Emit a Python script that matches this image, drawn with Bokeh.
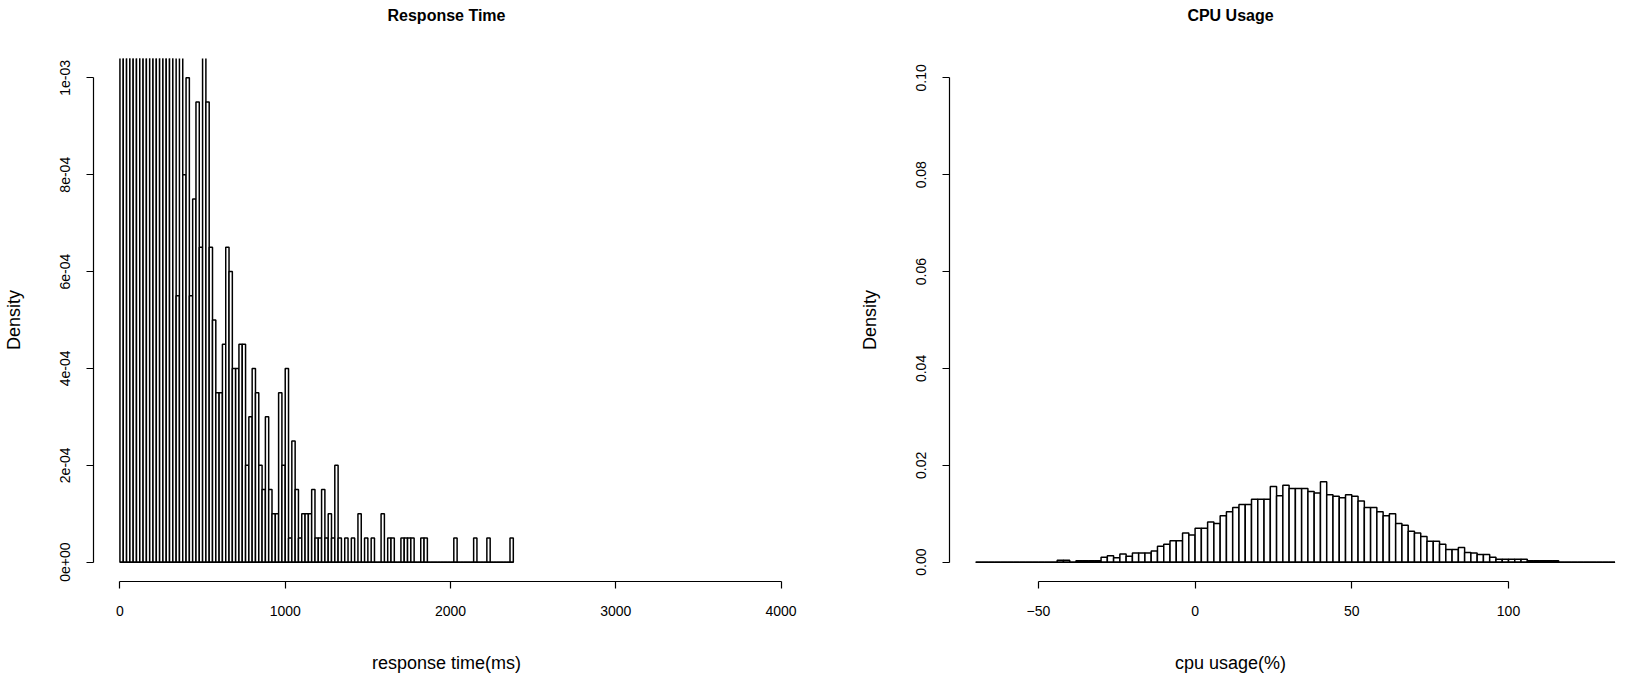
from bokeh.plotting import figure
from bokeh.layouts import row
from bokeh.models import FixedTicker, Range1d, LinearAxis
from bokeh.embed import file_html
from bokeh.resources import INLINE

# ---------------- data ----------------
# Response time histogram: 20 ms bins starting at 0, density in units of 1e-4
rt_bin_width = 20
rt_first_break = 0
rt_density_e4 = [
    15, 22.5, 25, 24, 26, 22.5, 20, 21, 19, 18,
    17, 15, 14, 13, 12.5, 12, 11, 5.5, 11, 8.0,
    10.0, 5.5, 7.5, 9.5, 6.5, 12, 9.5, 6.5, 5.0, 3.5,
    3.5, 4.5, 6.5, 6.0, 4.0, 4.0, 4.5, 4.5, 2.0, 3.0,
    4.0, 3.5, 2.0, 1.5, 3.0, 1.5, 1.0, 1.0, 3.5, 2.0,
    4.0, 0.5, 2.5, 1.5, 0.5, 1.0, 1.0, 1.0, 1.5, 0.5,
    0.5, 1.5, 0.5, 1.0, 0.5, 2.0, 0.5, 0, 0.5, 0,
    0.5, 0, 1.0, 0, 0.5, 0, 0.5, 0, 0, 1.0,
    0, 0.5, 0.5, 0, 0, 0.5, 0.5, 0.5, 0.5, 0,
    0, 0.5, 0.5, 0, 0, 0, 0, 0, 0, 0,
    0, 0.5, 0, 0, 0, 0, 0, 0.5, 0, 0,
    0, 0.5, 0, 0, 0, 0, 0, 0, 0.5,
]
rt_xticks = [0, 1000, 2000, 3000, 4000]
rt_yticks = [0.0, 0.0002, 0.0004, 0.0006, 0.0008, 0.001]
rt_ylabels = ["0e+00", "2e-04", "4e-04", "6e-04", "8e-04", "1e-03"]

# CPU usage histogram: 2 % bins starting at -70
cpu_bin_width = 2
cpu_first_break = -70
cpu_density = (
    [0.0] * 13
    + [0.0004, 0.0004, 0.0, 0.0003, 0.0003, 0.0003, 0.0003]
    + [0.0010, 0.0013, 0.0009, 0.0017, 0.0012, 0.0019, 0.0019, 0.0019, 0.0023, 0.0033,
       0.0037, 0.0044, 0.0044, 0.0060, 0.0056]
    + [0.0070, 0.0070, 0.0083, 0.0080, 0.0096, 0.0104, 0.0113, 0.0119, 0.0119, 0.0130,
       0.0130, 0.0130, 0.0156, 0.0137, 0.0159, 0.0152, 0.0152, 0.0152, 0.0146, 0.0143,
       0.0166, 0.0139, 0.0136, 0.0133, 0.0139, 0.0136, 0.0126, 0.0113, 0.0113, 0.0104,
       0.0096, 0.0100, 0.0080, 0.0076, 0.0064, 0.0060, 0.0053, 0.0043, 0.0043, 0.0037,
       0.0026, 0.0026, 0.0030, 0.0020, 0.0019, 0.0016, 0.0016, 0.0010, 0.0006, 0.0006,
       0.0006, 0.0006, 0.0006, 0.0003, 0.0003, 0.0003, 0.0003, 0.0003]
    + [0.0] * 9
)
cpu_xticks = [-50, 0, 50, 100]
cpu_yticks = [0.0, 0.02, 0.04, 0.06, 0.08, 0.10]
cpu_ylabels = ["0.00", "0.02", "0.04", "0.06", "0.08", "0.10"]

FONT = "Liberation Sans, Arial"

FRAME_TOP = 58
FRAME_H = 523


def histogram(title, xlabel, density, first_break, width, xticks, yticks, ylabels,
              x_range, yaxis_at, frame_w, border_left, border_right):
    ypad = 0.04 * yticks[-1]
    p = figure(
        output_backend="svg", toolbar_location=None,
        frame_width=frame_w, frame_height=FRAME_H,
        min_border_left=border_left, min_border_right=border_right,
        min_border_top=FRAME_TOP, min_border_bottom=90,
        x_range=Range1d(*x_range),
        y_range=Range1d(yticks[0] - ypad, yticks[-1] + ypad),
        outline_line_color=None, background_fill_color="white",
        border_fill_color="white",
    )
    p.grid.visible = False
    lefts = [first_break + i * width for i in range(len(density))]
    rights = [l + width for l in lefts]
    p.quad(left=lefts, right=rights, bottom=0, top=density,
           fill_color="white", line_color="black", line_width=1.5)
    p.segment(x0=[lefts[0]], x1=[rights[-1]], y0=[0], y1=[0],
              line_color="black", line_width=1.5)

    xaxis = p.below[0]
    yaxis = p.left[0]
    for ax, ticks in ((xaxis, xticks), (yaxis, yticks)):
        ax.ticker = FixedTicker(ticks=ticks)
        ax.bounds = (ticks[0], ticks[-1])
        ax.minor_tick_line_color = None
        ax.major_tick_in = 0
        ax.major_tick_out = 7
        ax.axis_line_color = "black"
        ax.axis_line_width = 1.2
        ax.major_tick_line_color = "black"
        ax.major_tick_line_width = 1.2
        ax.major_label_text_font = FONT
        ax.major_label_text_font_size = "14px"
        ax.major_label_text_color = "black"
        ax.axis_label_text_font = FONT
        ax.axis_label_text_font_size = "18px"
        ax.axis_label_text_font_style = "normal"
        ax.axis_label_text_color = "black"

    if yaxis_at is not None:
        yaxis.fixed_location = yaxis_at
    yaxis.major_label_overrides = {t: s for t, s in zip(yticks, ylabels)}
    yaxis.major_label_orientation = "vertical"
    yaxis.major_label_standoff = 16
    yaxis.axis_label = "Density"
    yaxis.axis_label_standoff = 34

    xaxis.major_label_standoff = 17
    xaxis.axis_label = xlabel
    xaxis.axis_label_standoff = 34

    # main title: label of an otherwise empty axis above the frame
    top_axis = LinearAxis(ticker=FixedTicker(ticks=[]), axis_line_color=None,
                          major_tick_line_color=None, minor_tick_line_color=None,
                          major_tick_out=0, major_tick_in=0,
                          major_label_standoff=0, axis_label=title,
                          axis_label_standoff=35, axis_label_text_font=FONT,
                          axis_label_text_font_style="bold",
                          axis_label_text_font_size="16px",
                          axis_label_text_color="black")
    p.add_layout(top_axis, "above")
    return p


left = histogram(
    "Response Time", "response time(ms)",
    [v * 1e-4 for v in rt_density_e4], rt_first_break, rt_bin_width,
    rt_xticks, rt_yticks, rt_ylabels,
    x_range=(-160, 4111.6), yaxis_at=None, frame_w=706,
    border_left=92, border_right=0,
)
right = histogram(
    "CPU Usage", "cpu usage(%)", cpu_density, cpu_first_break, cpu_bin_width,
    cpu_xticks, cpu_yticks, cpu_ylabels,
    x_range=(-119.2, 141.8), yaxis_at=-78.4, frame_w=818,
    border_left=22, border_right=4,
)

layout = row(left, right)
open("out.html", "w").write(file_html(layout, INLINE))
